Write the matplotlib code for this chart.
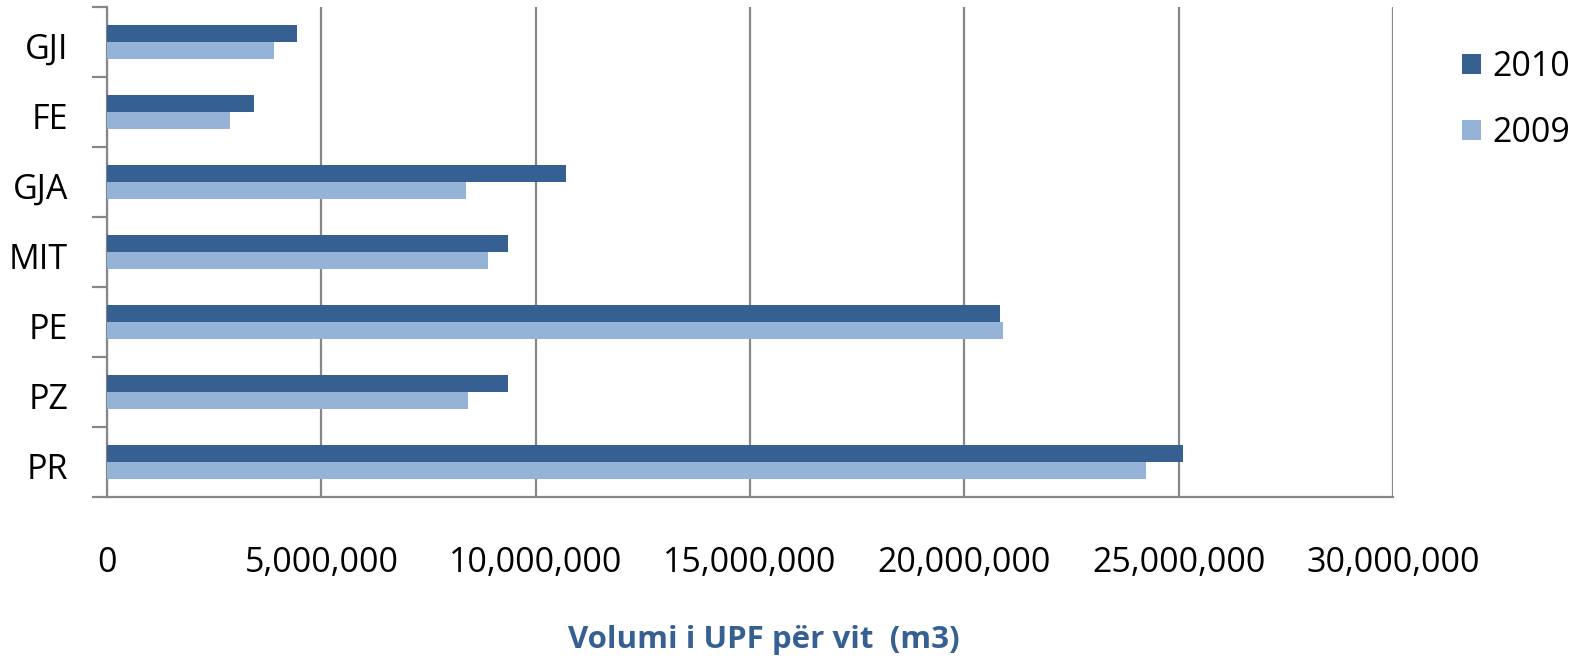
import matplotlib.pyplot as plt
import numpy as np
from matplotlib.ticker import FuncFormatter

plt.rcParams['font.family'] = ['Open Sans', 'DejaVu Sans']

categories = ['PR', 'PZ', 'PE', 'MIT', 'GJA', 'FE', 'GJI']
vol_2010 = [25100000, 9350000, 20830000, 9350000, 10700000, 3430000, 4430000]
vol_2009 = [24230000, 8420000, 20900000, 8880000, 8370000, 2880000, 3900000]

dark = '#366092'
light = '#95B3D7'
gray = '#878787'

fig = plt.figure(figsize=(15.71, 6.61), dpi=100)
ax = fig.add_axes([0.0681, 0.2481, 0.8186, 0.7413])

y = np.arange(len(categories))
h = 0.24
ax.barh(y + h / 2, vol_2010, height=h, color=dark, label='2010', zorder=3)
ax.barh(y - h / 2, vol_2009, height=h, color=light, label='2009', zorder=3)

ax.set_xlim(0, 30000000)
ax.set_ylim(-0.5, len(categories) - 0.5)

ax.set_xticks(np.arange(0, 30000001, 5000000))
ax.xaxis.set_major_formatter(FuncFormatter(lambda v, p: f'{int(v):,}'))
ax.tick_params(axis='x', length=0, pad=35, labelsize=24.5)
ax.grid(axis='x', color=gray, linewidth=1.6, zorder=0)

# y ticks at category boundaries, labels at centres
ax.set_yticks(np.arange(-0.5, len(categories), 1.0))
ax.set_yticklabels([])
ax.set_yticks(y - 0.05, minor=True)
ax.set_yticklabels(categories, minor=True, fontsize=24.5)
ax.tick_params(axis='y', which='major', length=11, width=1.6, color=gray)
ax.tick_params(axis='y', which='minor', length=0, pad=28)

for s in ['top', 'right']:
    ax.spines[s].set_visible(False)
for s in ['left', 'bottom']:
    ax.spines[s].set_color(gray)
    ax.spines[s].set_linewidth(1.6)

ax.legend(loc='upper left', bbox_to_anchor=(1.03, 0.975), frameon=False,
          fontsize=24.5, handlelength=0.55, handleheight=0.55,
          handletextpad=0.35, labelspacing=0.95)

fig.text(0.486, 0.032, 'Volumi i UPF për vit  (m3)', ha='center', va='center',
         fontsize=22.5, fontweight='bold', color='#376092')

fig.savefig('out.png', dpi=100)
